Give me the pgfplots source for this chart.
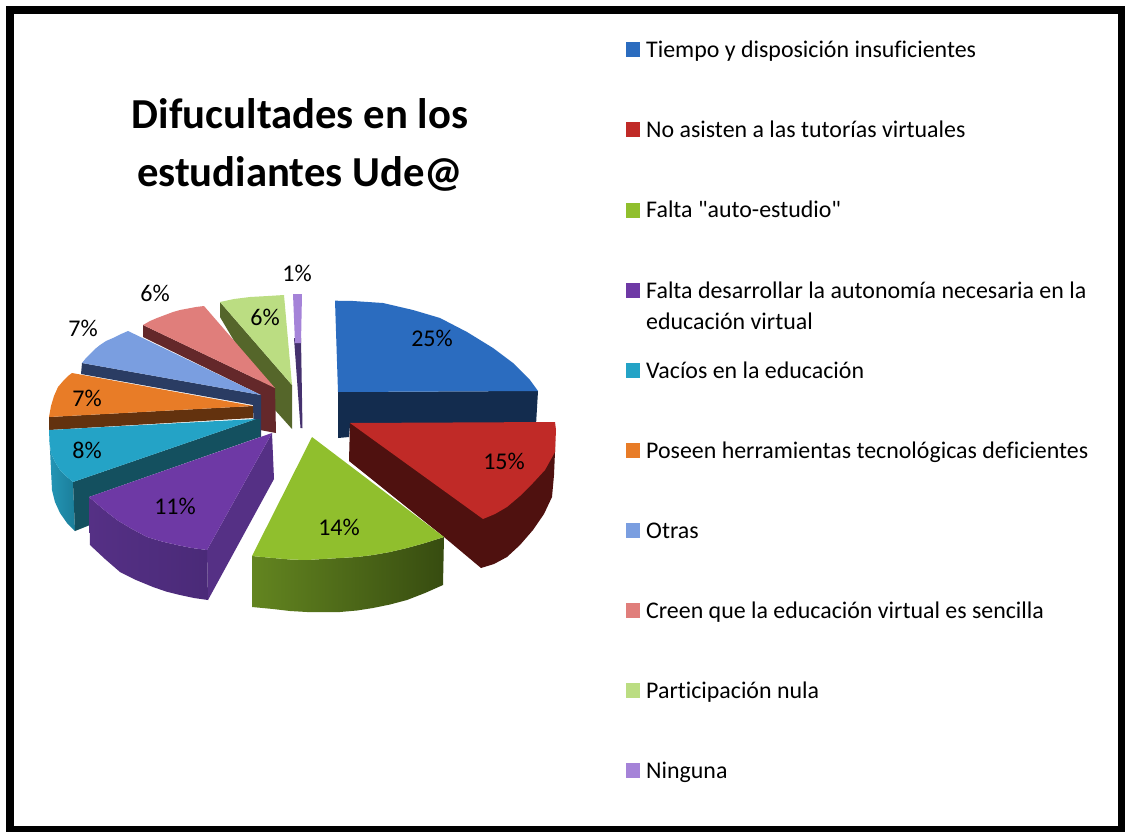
\documentclass[border=0pt]{standalone}
\usepackage{pgfplots}
\pgfplotsset{compat=1.18}
\usepackage{fontspec}
\newfontfamily\carl{Carlito}[Ligatures=NoCommon]
\definecolor{cBlue}{HTML}{2B6CBF}\definecolor{cBlueD}{HTML}{132C4E}
\definecolor{cRed}{HTML}{C02A27}\definecolor{cRedD}{HTML}{4F110F}
\definecolor{cGreen}{HTML}{90BF2D}\definecolor{cGreenL}{HTML}{638520}\definecolor{cGreenD}{HTML}{374C10}
\definecolor{cPurple}{HTML}{6E39A5}\definecolor{cPurpleD}{HTML}{553085}\definecolor{cPurpleE}{HTML}{4A2A78}
\definecolor{cTeal}{HTML}{24A3C6}\definecolor{cTealD}{HTML}{14505F}\definecolor{cTealL}{HTML}{2496B6}\definecolor{cTealM}{HTML}{1B7E9A}
\definecolor{cOrange}{HTML}{E87C27}\definecolor{cOrangeD}{HTML}{63320E}
\definecolor{cSky}{HTML}{7A9EE0}\definecolor{cSkyD}{HTML}{2A3C63}
\definecolor{cPink}{HTML}{E07E7B}\definecolor{cPinkD}{HTML}{64282A}
\definecolor{cLime}{HTML}{BBDD82}\definecolor{cLimeD}{HTML}{55662A}
\definecolor{cLilac}{HTML}{A583D8}\definecolor{cLilacD}{HTML}{45316E}
\newcommand{\legtxt}[2]{\node[anchor=base west,inner sep=0pt,font=\carl\fontsize{23.9}{27}\selectfont] at (axis cs:646,#1) {#2};}
\newcommand{\pct}[3]{\node[anchor=base,inner sep=0pt,font=\carl\fontsize{24}{26}\selectfont] at (axis cs:#1,#2) {#3\%};}
\begin{document}
\begin{tikzpicture}
\begin{axis}[scale only axis,width=1125pt,height=832pt,xmin=0,xmax=1125,ymin=0,ymax=832,y dir=reverse,hide axis,clip=true]
% frame
\addplot[fill=white,draw=none] coordinates {(0,0)(1125,0)(1125,832)(0,832)} --cycle;
\addplot[fill=black,draw=none] coordinates {(6,6)(1125,6)(1125,832)(6,832)} --cycle;
\addplot[fill=white,draw=none] coordinates {(14,14)(1118,14)(1118,825.5)(14,825.5)} --cycle;
% Ninguna 1%
\addplot[fill=cLilacD,draw=none] coordinates {(294,338)(301,338)(302.5,428)(300.5,428)} --cycle;
\addplot[fill=cLilac,draw=none] coordinates {(293,294)(302,294)(301,343)(295,343)} --cycle;
% Participacion nula 6%
\addplot[fill=cLimeD,draw=none] coordinates {(220,302)(292,385)(292,429)(275,410)(220,317)} --cycle;
\addplot[fill=cLime,draw=none] coordinates {(292,385)(220,302)(227,300.5)(234,299)(242,298)(250,297)(259,296.5)(268,296)(276,295.5)(284,295)} --cycle;
% Creen 6%
\addplot[fill=cPinkD,draw=none] coordinates {(143,325)(275,388)(276,433)(260,430)(261,395)(143,337)} --cycle;
\addplot[fill=cPink,draw=none] coordinates {(275,388)(204,306)(196,307)(188,308.5)(180,310)(173,312)(165,315)(157,318)(150,321)(143,325)} --cycle;
% Otras 7%
\addplot[fill=cSkyD,draw=none] coordinates {(82,363)(261,395)(261,437)(254,437)(253,405)(81,374)} --cycle;
\addplot[fill=cSky,draw=none] coordinates {(261,395)(128,331)(120,334.5)(113,338)(106,341)(100,345)(95,349)(90,354)(86,358)(82,363)} --cycle;
% Poseen 7%
\addplot[fill=cOrangeD,draw=none] coordinates {(49,417)(253,406)(253,418)(49,430)} --cycle;
\addplot[fill=cOrange,draw=none] coordinates {(253,406)(72,373)(68,376)(64,380)(58,387)(54,396)(51,406)(49,417)} --cycle;
% Vacios 8%
\addplot[left color=cTealL,right color=cTealM,draw=none] coordinates {(49,430)(49.5,442)(51,453)(55,462)(60,470)(66,476)(73,482)(75,531)(67,523)(60,513)(55,502)(52,490)} --cycle;
\addplot[fill=cTealD,draw=none] coordinates {(256,419)(73,482)(75,531)(90,525)(89,497)(260,437)(260,419)} --cycle;
\addplot[fill=cTeal,draw=none] coordinates {(256,419)(49,430)(49.5,442)(51,453)(55,462)(60,470)(66,476)(73,482)} --cycle;
% Falta desarrollar 11%
\addplot[fill=cPurpleD,draw=none] coordinates {(207,550)(272,433)(274,479)(208,600)} --cycle;
\addplot[left color=cPurpleD,right color=cPurpleE,draw=none] coordinates {(89,497)(103,509)(117,520)(132,529)(147,537)(162,541.5)(177,545)(192,548)(207,550)(208,600)(194,598)(180,595)(166,591.5)(153,587)(136,580)(120,572)(105,559)(90,545)} --cycle;
\addplot[fill=cPurple,draw=none] coordinates {(272,433)(89,497)(103,509)(117,520)(132,529)(147,537)(162,541.5)(177,545)(192,548)(207,550)} --cycle;
% Tiempo 25%
\addplot[fill=cBlueD,draw=none] coordinates {(338,392)(538,391)(536,425)(350,425)(349,437)(338,438)} --cycle;
\addplot[fill=cBlue,draw=none] coordinates {(338,392)(335,300.7)(353,301)(383,303)(413,310)(440,318)(467,332)(493,348)(513,363)(530,380)(538,391)} --cycle;
% No asisten 15%
\addplot[fill=cRedD,draw=none] coordinates {(350,423)(555,440)(555,452)(554,475)(552,497)(544,514)(533,530)(520,545)(507,557)(494,564)(481,568)(444,537)(349,461)} --cycle;
\addplot[fill=cRed,draw=none] coordinates {(350,423)(555,422)(556,430)(555,452)(545,470)(533,483)(520,496)(507,507)(495,514)(483,519)} --cycle;
% Falta auto-estudio 14%
\addplot[left color=cGreenL,right color=cGreenD,draw=none] coordinates {(252,556)(273,558)(290,559.5)(307,560)(323,559)(340,558)(357,557)(373,555)(390,552)(407,548)(425,543)(444,537)(443,585)(425,593)(407,600)(390,604.5)(373,608)(357,610.5)(340,612)(323,612)(307,612)(290,611)(273,609)(252,607)} --cycle;
\addplot[fill=cGreen,draw=none] coordinates {(312,437)(444,537)(425,543)(407,548)(390,552)(373,555)(357,557)(340,558)(323,559)(307,560)(290,559.5)(273,558)(252,556)} --cycle;
% legend keys
\addplot[fill=cBlue,draw=none] coordinates {(626,42.5)(640,42.5)(640,57.5)(626,57.5)} --cycle;
\addplot[fill=cRed,draw=none] coordinates {(626,122.5)(640,122.5)(640,137.5)(626,137.5)} --cycle;
\addplot[fill=cGreen,draw=none] coordinates {(626,202.5)(640,202.5)(640,217.5)(626,217.5)} --cycle;
\addplot[fill=cPurple,draw=none] coordinates {(626,282.5)(640,282.5)(640,297.5)(626,297.5)} --cycle;
\addplot[fill=cTeal,draw=none] coordinates {(626,362.5)(640,362.5)(640,377.5)(626,377.5)} --cycle;
\addplot[fill=cOrange,draw=none] coordinates {(626,442.5)(640,442.5)(640,457.5)(626,457.5)} --cycle;
\addplot[fill=cSky,draw=none] coordinates {(626,522.5)(640,522.5)(640,537.5)(626,537.5)} --cycle;
\addplot[fill=cPink,draw=none] coordinates {(626,602.5)(640,602.5)(640,617.5)(626,617.5)} --cycle;
\addplot[fill=cLime,draw=none] coordinates {(626,682.5)(640,682.5)(640,697.5)(626,697.5)} --cycle;
\addplot[fill=cLilac,draw=none] coordinates {(626,762.5)(640,762.5)(640,777.5)(626,777.5)} --cycle;
% title
\node[anchor=base,inner sep=0pt,font=\carl\fontsize{42.7}{46}\selectfont\bfseries] at (axis cs:300,129) {Difucultades en los};
\node[anchor=base,inner sep=0pt,font=\carl\fontsize{42.7}{46}\selectfont\bfseries] at (axis cs:300,186) {estudiantes Ude@};
% legend text
\legtxt{58}{Tiempo y disposición insuficientes}
\legtxt{138}{No asisten a las tutorías virtuales}
\legtxt{218}{Falta "auto-estudio"}
\legtxt{298}{Falta desarrollar la autonomía necesaria en la}
\legtxt{329}{educación virtual}
\legtxt{378}{Vacíos en la educación}
\legtxt{458}{Poseen herramientas tecnológicas deficientes}
\legtxt{538}{Otras}
\legtxt{618}{Creen que la educación virtual es sencilla}
\legtxt{698}{Participación nula}
\legtxt{778}{Ninguna}
% data labels
\pct{432}{346}{25}
\pct{504}{469}{15}
\pct{339}{535}{14}
\pct{175}{514}{11}
\pct{87}{458}{8}
\pct{87}{406}{7}
\pct{83}{336}{7}
\pct{155}{301}{6}
\pct{265}{325}{6}
\pct{297}{281}{1}
\end{axis}
\end{tikzpicture}
\end{document}
